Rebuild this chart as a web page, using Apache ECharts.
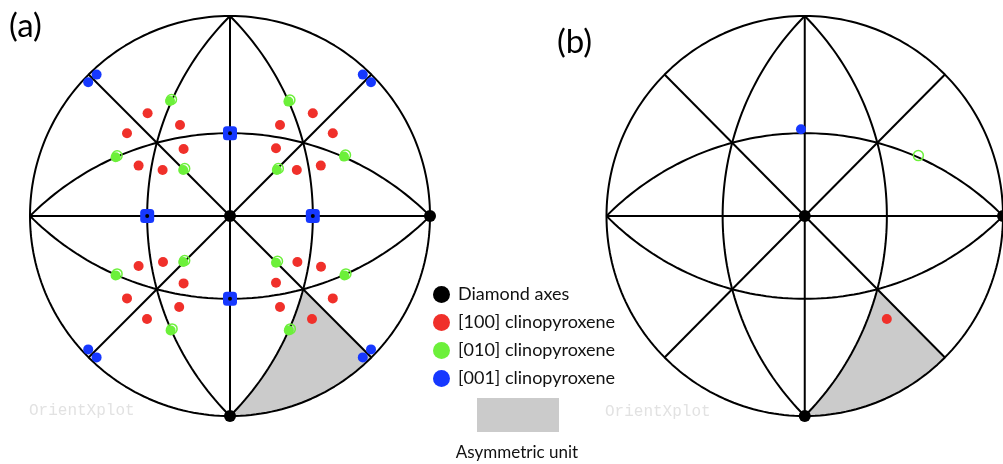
<!DOCTYPE html>
<html>
<head>
<meta charset="utf-8">
<script src="https://cdn.jsdelivr.net/npm/echarts/dist/echarts.min.js"></script>
<style>
  html, body { margin: 0; padding: 0; background: #fff; }
  #chart { width: 1003px; height: 464px; }
</style>
</head>
<body>
<div id="chart"></div>
<script>
// Pole positions in stereographic net coordinates (unit primitive circle, y up)

// (a) all symmetry-equivalent clinopyroxene axes
const redA = [
  [-0.412, 0.514], [-0.250, 0.455], [-0.515, 0.414], [-0.232, 0.335], [-0.457, 0.252], [-0.337, 0.230],
  [0.414, 0.514], [0.250, 0.455], [0.514, 0.414], [0.230, 0.339], [0.454, 0.252], [0.334, 0.230],
  [-0.457, -0.250], [-0.335, -0.230], [-0.232, -0.337], [-0.515, -0.412], [-0.254, -0.455], [-0.415, -0.515],
  [0.337, -0.230], [0.455, -0.254], [0.230, -0.334], [0.514, -0.412], [0.250, -0.455], [0.410, -0.515]
];
const greenA = [
  [-0.300, 0.575], [-0.572, 0.294], [-0.234, 0.230],
  [0.292, 0.572], [0.570, 0.297], [0.234, 0.230],
  [-0.572, -0.297], [-0.234, -0.230], [-0.297, -0.572],
  [0.230, -0.234], [0.572, -0.297], [0.294, -0.572]
];
const blueA = [
  [-0.709, 0.669], [-0.667, 0.707], [0.664, 0.707], [0.705, 0.669],
  [-0.709, -0.667], [-0.667, -0.707], [0.705, -0.667], [0.664, -0.707]
];
const blueClusterA = [[-0.414, 0], [0.414, 0], [0, 0.414], [0, -0.414]];
const diamondA = [[0, 0], [1, 0], [0, -1]];
const diamondMinorA = [[-0.414, 0], [0.414, 0], [0, 0.414], [0, -0.414]];

// (b) axes reduced to the asymmetric unit
const redB = [[0.414, -0.515]];
const greenB = [[0.573, 0.302]];
const blueB = [[-0.019, 0.434]];
const diamondB = [[0, 0], [1, 0], [0, -1]];

const legendNames = ['Diamond axes', '[100] clinopyroxene', '[010] clinopyroxene', '[001] clinopyroxene'];
const panelLabels = ['(a)', '(b)'];
const watermark = 'OrientXplot';
const unitLabel = 'Asymmetric unit';

const RED = '#f0302a', GREEN = '#6cf03a', BLUE = '#1638ff', BLACK = '#000';
const FONT = 'Lato, "Open Sans", sans-serif';

// Great circles of the cubic standard net: primitive, {100} and {110} traces
function arc(cx, cy, r, a0, a1, n) {
  const pts = [];
  for (let i = 0; i <= n; i++) {
    const a = (a0 + (a1 - a0) * i / n) * Math.PI / 180;
    pts.push([cx + r * Math.cos(a), cy + r * Math.sin(a)]);
  }
  return pts;
}
const S2 = Math.SQRT2, H = Math.SQRT1_2;
const netPaths = [
  arc(0, 0, 1, 0, 360, 240),
  [[-1, 0], [1, 0]],
  [[0, -1], [0, 1]],
  [[-H, -H], [H, H]],
  [[-H, H], [H, -H]],
  arc(-1, 0, S2, -45, 45, 80),
  arc(1, 0, S2, 135, 225, 80),
  arc(0, -1, S2, 45, 135, 80),
  arc(0, 1, S2, 225, 315, 80)
];
// Asymmetric unit: bounded by a {110} arc, the (1-10) trace and the primitive
const unitPoly = [].concat(arc(-1, 0, S2, -45, -15, 30), [[H, -H]], arc(0, 0, 1, -45, -90, 40));

function panelSeries(k, sets) {
  const s = [];
  s.push({
    type: 'custom', xAxisIndex: k, yAxisIndex: k, silent: true, z: 1,
    data: [[0, 0]],
    renderItem: (params, api) => ({
      type: 'polygon',
      shape: { points: unitPoly.map(p => api.coord(p)) },
      style: { fill: '#cbcbcb' }
    })
  });
  netPaths.forEach(p => s.push({
    type: 'line', xAxisIndex: k, yAxisIndex: k, data: p, symbol: 'none', showSymbol: false,
    clip: false, silent: true, z: 2, lineStyle: { color: BLACK, width: 2 }
  }));
  const sc = (name, data, opt) => Object.assign({
    type: 'scatter', name, data, xAxisIndex: k, yAxisIndex: k, clip: false, silent: true,
    symbol: 'circle', z: 4
  }, opt);
  s.push(sc(legendNames[0], sets.diamond, { symbolSize: 12, itemStyle: { color: BLACK, opacity: 1 } }));
  if (sets.red) s.push(sc(legendNames[1], sets.red, { symbolSize: 10, itemStyle: { color: RED, opacity: 1 } }));
  if (sets.green) s.push(sc(legendNames[2], sets.green, { symbolSize: 10, itemStyle: { color: GREEN, opacity: 1 } }));
  if (sets.greenRing) s.push(sc(legendNames[2], sets.greenRing, {
    symbolSize: 10, symbolOffset: sets.ringOffset || [0, 0],
    itemStyle: { color: 'rgba(0,0,0,0)', borderColor: GREEN, borderWidth: 1.5, opacity: 1 }, z: 5
  }));
  if (sets.blue) s.push(sc(legendNames[3], sets.blue, { symbolSize: 10, itemStyle: { color: BLUE, opacity: 1 } }));
  if (sets.blueCluster) s.push(sc(legendNames[3], sets.blueCluster, {
    symbol: 'roundRect', symbolSize: 14, itemStyle: { color: BLUE, opacity: 1 }
  }));
  if (sets.minor) s.push(sc(legendNames[0], sets.minor, { symbolSize: 4, itemStyle: { color: BLACK, opacity: 1 }, z: 6 }));
  return s;
}

const series = [].concat(
  panelSeries(0, {
    diamond: diamondA, red: redA, green: greenA, greenRing: greenA, ringOffset: [1.5, -1.5],
    blue: blueA, blueCluster: blueClusterA, minor: diamondMinorA
  }),
  panelSeries(1, { diamond: diamondB, red: redB, greenRing: greenB, blue: blueB })
);

const axis = { type: 'value', min: -1, max: 1, show: false };
const chart = echarts.init(document.getElementById('chart'), null, { renderer: 'canvas' });
chart.setOption({
  animation: false,
  backgroundColor: '#fff',
  grid: [
    { left: 30, top: 16, width: 400, height: 400 },
    { left: 606.5, top: 16, width: 400, height: 400 }
  ],
  xAxis: [Object.assign({ gridIndex: 0 }, axis), Object.assign({ gridIndex: 1 }, axis)],
  yAxis: [Object.assign({ gridIndex: 0 }, axis), Object.assign({ gridIndex: 1 }, axis)],
  legend: {
    orient: 'vertical', left: 433, top: 285.5, padding: 0, itemWidth: 17, itemHeight: 17, itemGap: 10,
    icon: 'circle', selectedMode: false,
    textStyle: { fontSize: 18, fontFamily: FONT, color: '#111', padding: [0, 0, 0, 3] },
    data: [
      { name: legendNames[0], itemStyle: { color: BLACK, opacity: 1 } },
      { name: legendNames[1], itemStyle: { color: RED, opacity: 1 } },
      { name: legendNames[2], itemStyle: { color: GREEN, opacity: 1, borderWidth: 0 } },
      { name: legendNames[3], itemStyle: { color: BLUE, opacity: 1 } }
    ]
  },
  graphic: [
    { type: 'text', silent: true, style: { text: panelLabels[0], x: 9, y: 26, font: '33px ' + FONT, fill: '#000', textVerticalAlign: 'middle' } },
    { type: 'text', silent: true, style: { text: panelLabels[1], x: 557, y: 42, font: '33px ' + FONT, fill: '#000', textVerticalAlign: 'middle' } },
    { type: 'text', silent: true, style: { text: watermark, x: 29, y: 411, font: '16px "Liberation Mono", monospace', fill: '#e2e2e2', textVerticalAlign: 'middle' } },
    { type: 'text', silent: true, style: { text: watermark, x: 605, y: 412, font: '16px "Liberation Mono", monospace', fill: '#e2e2e2', textVerticalAlign: 'middle' } },
    { type: 'rect', silent: true, shape: { x: 477, y: 398, width: 82, height: 34 }, style: { fill: '#cbcbcb' } },
    { type: 'text', silent: true, style: { text: unitLabel, x: 517, y: 453, font: '17px ' + FONT, fill: '#111', textAlign: 'center', textVerticalAlign: 'middle' } }
  ],
  series
});
</script>
</body>
</html>
